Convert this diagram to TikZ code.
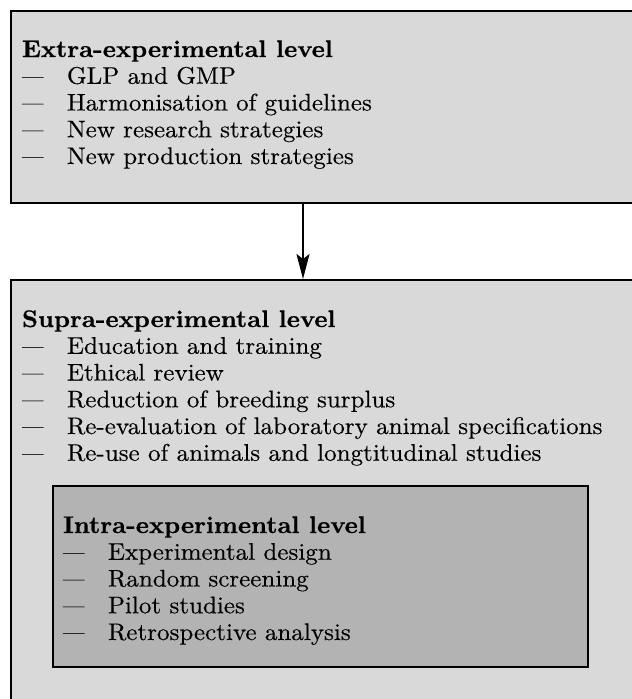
\documentclass[tikz,border=0pt]{standalone}
\usepackage{fontspec}
\setmainfont{lmroman10-regular.otf}[BoldFont=lmroman10-bold.otf, UprightFeatures={FakeBold=0.3}, BoldFeatures={FakeBold=0.6}]
\usepackage{graphicx}
\usetikzlibrary{arrows.meta}
\definecolor{outerfill}{HTML}{D9D9D9}
\definecolor{innerfill}{HTML}{B3B3B3}
\newcommand\itm[1]{\makebox[43.1pt][l]{\scalebox{0.86}[1]{---}}#1}
\newcommand\boxtext[1]{\scalebox{1.043}[1]{\fontsize{24}{26.75}\selectfont\begin{tabular}{@{}l@{}}#1\end{tabular}}}
\tikzset{
  outerbox/.style={draw=black, line width=2.4pt, fill=outerfill, rectangle, anchor=north west, inner sep=0pt},
  innerbox/.style={draw=black, line width=2.4pt, fill=innerfill, rectangle, anchor=north west, inner sep=0pt},
  label text/.style={anchor=north west, inner sep=0pt, outer sep=0pt},
  connector/.style={line width=1.8pt, -{Stealth[length=25pt, width=13pt, inset=5pt]}}
}
\begin{document}
\begin{tikzpicture}[x=1pt, y=-1pt]
\useasboundingbox (0,0) rectangle (632,699);
\clip (0,0) rectangle (632,699);
\node[outerbox, minimum width=640pt, minimum height=192pt] (extra) at (10,9.5) {};
\node[outerbox, minimum width=640pt, minimum height=440pt] (supra) at (10,279) {};
\node[innerbox, minimum width=535pt, minimum height=181pt] (intra) at (52,485) {};
\coordinate (ax) at (303,0);
\draw[connector] (extra.south -| ax) -- (supra.north -| ax);
\node[label text] (extratext) at (22,38.275) {\boxtext{%
\textbf{Extra-experimental level}\\
\itm{GLP and GMP}\\
\itm{Harmonisation of guidelines}\\
\itm{New research strategies}\\
\itm{New production strategies}}};
\node[label text] (supratext) at (22,308.275) {\boxtext{%
\textbf{Supra-experimental level}\\
\itm{Education and training}\\
\itm{Ethical review}\\
\itm{Reduction of breeding surplus}\\
\itm{Re-evaluation of laboratory animal specifications}\\
\itm{Re-use of animals and longtitudinal studies}}};
\node[label text] (intratext) at (63,514.275) {\boxtext{%
\textbf{Intra-experimental level}\\
\itm{Experimental design}\\
\itm{Random screening}\\
\itm{Pilot studies}\\
\itm{Retrospective analysis}}};
\end{tikzpicture}
\end{document}
